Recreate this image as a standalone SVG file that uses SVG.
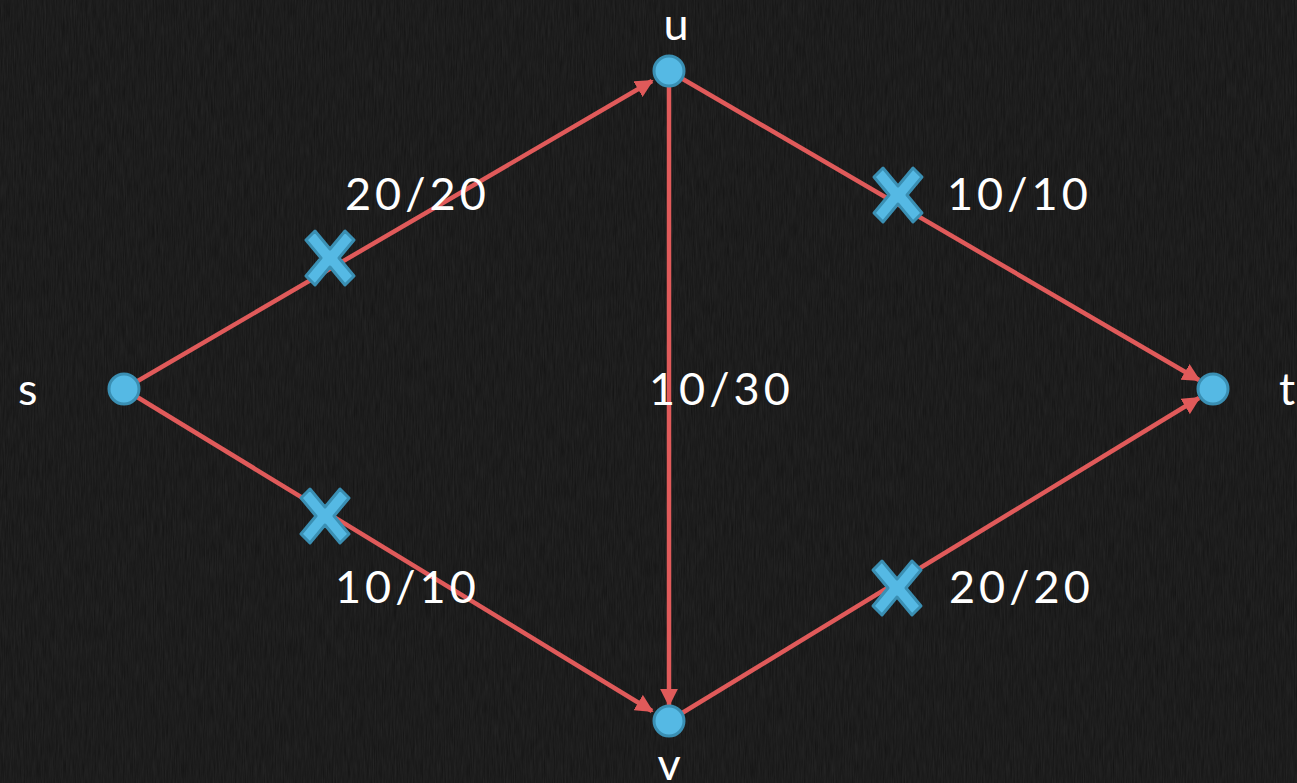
<svg xmlns="http://www.w3.org/2000/svg" width="1297" height="783" viewBox="0 0 1297 783">
<defs>
<style>
.edge{stroke:#e05a5a;stroke-width:4.5;fill:none;marker-end:url(#arr)}
.node{fill:#55b9e4;stroke:#3a8fb3;stroke-width:3}
.lbl{font-family:Lato,"Open Sans",sans-serif;font-size:45px;fill:#ffffff}
.num{letter-spacing:4px}
.x{fill:#55b9e4;stroke:#3a8fb3;stroke-width:3;stroke-linejoin:round}
</style>
<marker id="arr" viewBox="0 0 10 10" refX="9" refY="5" markerWidth="4" markerHeight="4" orient="auto" markerUnits="strokeWidth">
<path d="M0,0 L10,5 L0,10 z" fill="#e05a5a"/>
</marker>
<path id="xs" d="M-24,-18 L-15,-27 L0,-9 L15,-27 L24,-18 L9,0 L24,18 L15,27 L0,9 L-15,27 L-24,18 L-9,0 Z"/>
<filter id="noise" x="0" y="0" width="100%" height="100%">
<feTurbulence type="fractalNoise" baseFrequency="0.9 0.05" numOctaves="3" seed="4"/>
<feColorMatrix type="matrix" values="0 0 0 0 1  0 0 0 0 1  0 0 0 0 1  0 0 0 0.08 0"/>
</filter>
</defs>
<rect width="1297" height="783" fill="#131313"/>
<rect width="1297" height="783" filter="url(#noise)"/>
<g id="connectors">
<line class="edge" x1="124" y1="389" x2="652" y2="81"/>
<line class="edge" x1="669" y1="71" x2="1199" y2="380"/>
<line class="edge" x1="669" y1="86" x2="669" y2="705"/>
<line class="edge" x1="124" y1="389" x2="652" y2="711"/>
<line class="edge" x1="669" y1="721" x2="1199" y2="398"/>
</g>
<g id="marks">
<use href="#xs" class="x" x="330" y="258"/>
<use href="#xs" class="x" x="898" y="195"/>
<use href="#xs" class="x" x="325" y="516"/>
<use href="#xs" class="x" x="897" y="588"/>
</g>
<g id="node-s"><circle class="node" cx="124" cy="389" r="15"/><text class="lbl" x="18" y="405">s</text></g>
<g id="node-u"><circle class="node" cx="669" cy="71" r="15"/><text class="lbl" x="676" y="40" text-anchor="middle">u</text></g>
<g id="node-v"><circle class="node" cx="669" cy="721" r="15"/><text class="lbl" x="669" y="780" text-anchor="middle">v</text></g>
<g id="node-t"><circle class="node" cx="1213" cy="389" r="15"/><text class="lbl" x="1279" y="405">t</text></g>
<g id="labels">
<text class="lbl num" x="345" y="210">20/20</text>
<text class="lbl num" x="947" y="210">10/10</text>
<text class="lbl num" x="649" y="405">10/30</text>
<text class="lbl num" x="335" y="603">10/10</text>
<text class="lbl num" x="949" y="603">20/20</text>
</g>
</svg>
